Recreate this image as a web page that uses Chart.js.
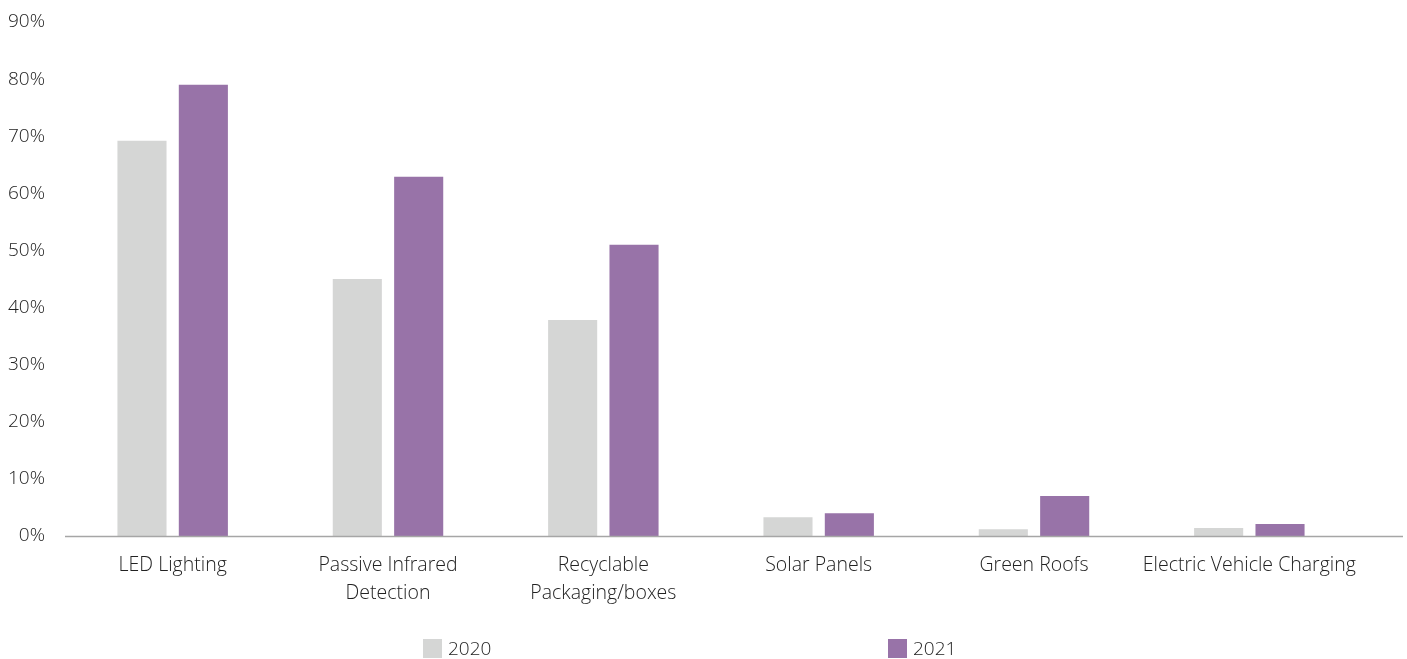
<!DOCTYPE html>
<html>
<head>
<meta charset="utf-8">
<script src="https://cdn.jsdelivr.net/npm/chart.js@4.4.1/dist/chart.umd.min.js"></script>
<style>
    html, body { margin: 0; padding: 0; background: #fff; }
    #wrap { position: relative; width: 1407px; height: 659px; }
    #legend { position: absolute; top: 637px; left: 0; width: 1407px; height: 22px;
              font-family: "Open Sans", sans-serif; font-weight: 300; font-size: 19px; color: #222; }
    .item { position: absolute; top: 0; display: flex; align-items: center; height: 22px; }
    .box { width: 19px; height: 19px; margin-right: 6px; }
</style>
</head>
<body>
<div id="wrap">
    <canvas id="chart" width="1407" height="659"></canvas>
    <div id="legend"></div>
</div>
<script>
// data
const categories = [
    "LED Lighting",
    ["Passive Infrared", "Detection"],
    ["Recyclable", "Packaging/boxes"],
    "Solar Panels",
    "Green Roofs",
    "Electric Vehicle Charging"
];
const years = ["2020", "2021"];
const values2020 = [69.2, 45.0, 37.8, 3.3, 1.2, 1.4];
const values2021 = [79.0, 62.9, 51.0, 4.0, 7.0, 2.1];
const colors = ["#d5d6d5", "#9873a8"];

const FONT = "'Open Sans', sans-serif";
const TEXT = "#222222";

// Excel style baseline that runs a bit past the last category
const baseline = {
    id: "baseline",
    afterDatasetsDraw(chart) {
        const ctx = chart.ctx;
        const y = Math.round(chart.scales.y.getPixelForValue(0)) + 0.5;
        ctx.save();
        ctx.strokeStyle = "#a6a6a6";
        ctx.lineWidth = 1.5;
        ctx.beginPath();
        ctx.moveTo(chart.chartArea.left, y);
        ctx.lineTo(chart.width - 4, y);
        ctx.stroke();
        ctx.restore();
    }
};

const ctx = document.getElementById("chart").getContext("2d");
new Chart(ctx, {
    type: "bar",
    data: {
        labels: categories,
        datasets: [
            { label: years[0], data: values2020, backgroundColor: colors[0] },
            { label: years[1], data: values2021, backgroundColor: colors[1] }
        ]
    },
    options: {
        responsive: false,
        animation: false,
        categoryPercentage: 0.57,
        barPercentage: 0.8,
        layout: { padding: { top: 22, right: 50, bottom: 43, left: 0 } },
        plugins: {
            legend: { display: false },
            tooltip: { enabled: false }
        },
        scales: {
            x: {
                grid: { display: false, drawTicks: false },
                border: { display: false },
                ticks: {
                    color: TEXT, padding: 16, maxRotation: 0, autoSkip: false,
                    font: { family: FONT, size: 19.5, weight: 300, lineHeight: 1.4 }
                },
                afterFit(scale) { scale.height = 80; }
            },
            y: {
                min: 0, max: 90,
                grid: { display: false, drawTicks: false },
                border: { display: false },
                ticks: {
                    stepSize: 10, color: TEXT, padding: 20,
                    font: { family: FONT, size: 19, weight: 300 },
                    callback: v => v + "%"
                },
                afterFit(scale) {
                    scale.width = 65;
                    // tick padding otherwise pushes the top of the plot down
                    scale.paddingTop = 0;
                    scale.paddingBottom = 0;
                }
            }
        }
    },
    plugins: [baseline]
});

// legend spread out like the original
const legend = document.getElementById("legend");
const legendX = [423, 888];
years.forEach((y, i) => {
    const el = document.createElement("div");
    el.className = "item";
    el.style.left = legendX[i] + "px";
    el.innerHTML = `<span class="box" style="background:${colors[i]}"></span><span>${y}</span>`;
    legend.appendChild(el);
});
</script>
</body>
</html>
